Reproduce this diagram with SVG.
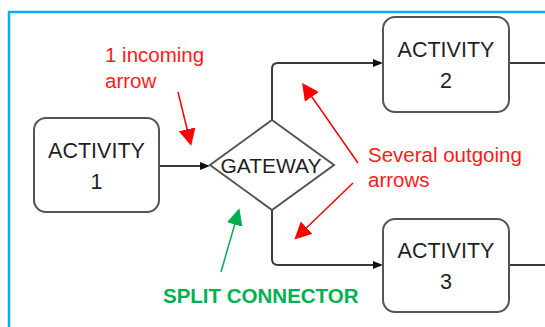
<svg xmlns="http://www.w3.org/2000/svg" width="545" height="327" viewBox="0 0 545 327">
  <style>
    .box { fill: #ffffff; stroke: #555555; stroke-width: 2; }
    .flow { fill: none; stroke: #3a3a3a; stroke-width: 2; }
    .label { font-family: "Liberation Sans", Arial, sans-serif; fill: #1f1f1f; text-anchor: middle; }
    .note { font-family: "Liberation Sans", Arial, sans-serif; fill: #ff1a1a; font-size: 20.5px; }
    .pointer-red { stroke: #ff0000; stroke-width: 1.5; fill: none; }
    .pointer-green { stroke: #00b050; stroke-width: 1.5; fill: none; }
  </style>
  <defs>
    <marker id="flowHead" markerUnits="userSpaceOnUse" markerWidth="10" markerHeight="8" refX="4" refY="4" orient="auto">
      <path d="M0,0 L10,4 L0,8 z" fill="#111111"/>
    </marker>
    <marker id="redHead" markerUnits="userSpaceOnUse" markerWidth="17" markerHeight="17" refX="12" refY="8.5" orient="auto">
      <path d="M0,0 L17,8.5 L0,17 z" fill="#ff0000"/>
    </marker>
    <marker id="greenHead" markerUnits="userSpaceOnUse" markerWidth="17" markerHeight="16" refX="12" refY="8" orient="auto">
      <path d="M0,0 L17,8 L0,16 z" fill="#00b050"/>
    </marker>
  </defs>

  <!-- frame -->
  <path d="M9,330 V12 H548" fill="none" stroke="#00b0f0" stroke-width="2.5"/>

  <!-- connectors -->
  <g id="connectors">
    <path class="flow" d="M159,166 H204" marker-end="url(#flowHead)"/>
    <path class="flow" d="M272,120 V69 Q272,63 278,63 H377" marker-end="url(#flowHead)"/>
    <path class="flow" d="M272,210 V259 Q272,265 278,265 H377" marker-end="url(#flowHead)"/>
    <path class="flow" d="M509,63 H546"/>
    <path class="flow" d="M509,265 H546"/>
  </g>

  <!-- nodes -->
  <g id="activity1">
    <rect class="box" x="34" y="118" width="125" height="94" rx="12"/>
    <text class="label" x="96.5" y="158" font-size="21.5">ACTIVITY</text>
    <text class="label" x="96.5" y="189" font-size="21.5">1</text>
  </g>
  <g id="gateway">
    <polygon class="box" points="272,120 334,165 272,210 210,165"/>
    <text class="label" x="271" y="173" font-size="21">GATEWAY</text>
  </g>
  <g id="activity2">
    <rect class="box" x="383" y="17" width="126" height="95" rx="12"/>
    <text class="label" x="446" y="57" font-size="21.5">ACTIVITY</text>
    <text class="label" x="446" y="88" font-size="21.5">2</text>
  </g>
  <g id="activity3">
    <rect class="box" x="383" y="219" width="126" height="93" rx="12"/>
    <text class="label" x="446" y="258" font-size="21.5">ACTIVITY</text>
    <text class="label" x="446" y="289" font-size="21.5">3</text>
  </g>

  <!-- annotations -->
  <g id="note-incoming">
    <text class="note" x="105" y="62">1 incoming</text>
    <text class="note" x="105" y="88">arrow</text>
    <path class="pointer-red" d="M178,92 L190,141" marker-end="url(#redHead)"/>
  </g>
  <g id="note-outgoing">
    <text class="note" x="368" y="162">Several outgoing</text>
    <text class="note" x="368" y="187">arrows</text>
    <path class="pointer-red" d="M358,163 L305,87" marker-end="url(#redHead)"/>
    <path class="pointer-red" d="M353,183 L298,236" marker-end="url(#redHead)"/>
  </g>
  <g id="note-split">
    <path class="pointer-green" d="M221,272 L238,213" marker-end="url(#greenHead)"/>
    <text x="163" y="303" font-family="Liberation Sans, Arial, sans-serif" font-weight="bold" font-size="20.5" fill="#00b050">SPLIT CONNECTOR</text>
  </g>
</svg>
